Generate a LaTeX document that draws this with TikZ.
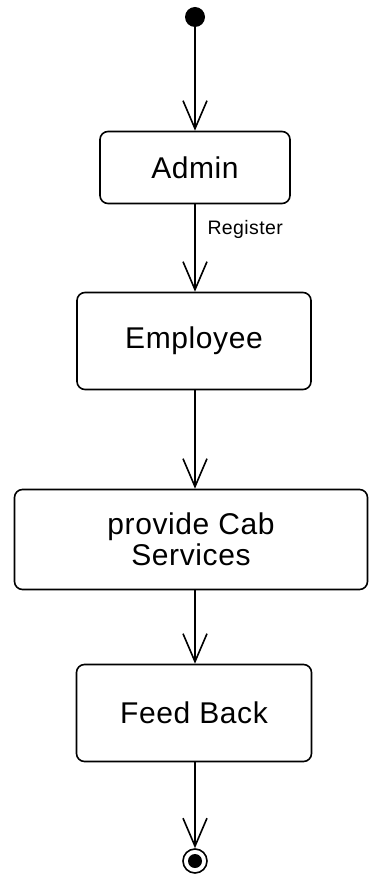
\documentclass[tikz,border=0pt]{standalone}
\usepackage{fontspec}
\setmainfont{Liberation Sans}[LetterSpace=2]
\usetikzlibrary{arrows.meta}
\begin{document}
\begin{tikzpicture}[x=1pt,y=-1pt,
  act/.style={draw, line width=1.6pt, rounded corners=8pt, align=center, inner sep=0pt,
    font=\fontsize{30}{31}\selectfont},
  flow/.style={line width=1.6pt, -{Straight Barb[length=28pt,width=24pt,line width=1.6pt]}}]
\useasboundingbox (0,0) rectangle (369,877);
\node[circle, fill, minimum size=20pt, inner sep=0pt] (start) at (195,17) {};
\node[act, minimum width=190pt, minimum height=72pt] (admin) at (195,167.5) {Admin};
\node[act, minimum width=234pt, minimum height=97pt] (employee) at (194,341) {Employee};
\node[act, minimum width=353pt, minimum height=100pt] (provide) at (191,539.5) {provide Cab\\Services};
\node[act, minimum width=235pt, minimum height=97pt] (feed) at (194,713) {Feed Back};
\node[circle, draw, line width=1.6pt, minimum size=24pt, inner sep=0pt] (end) at (195,861) {};
\fill (end.center) circle (7pt);
\draw[flow] (start) -- (start |- admin.north);
\draw[flow] (admin.south -| start) -- (start |- employee.north);
\draw[flow] (employee.south -| start) -- (start |- provide.north);
\draw[flow] (provide.south -| start) -- (start |- feed.north);
\draw[flow] (feed.south -| start) -- (end.north);
\node[font=\fontsize{19.5}{21}\selectfont, anchor=west] (reg) at (204,229) {Register};
\end{tikzpicture}
\end{document}
